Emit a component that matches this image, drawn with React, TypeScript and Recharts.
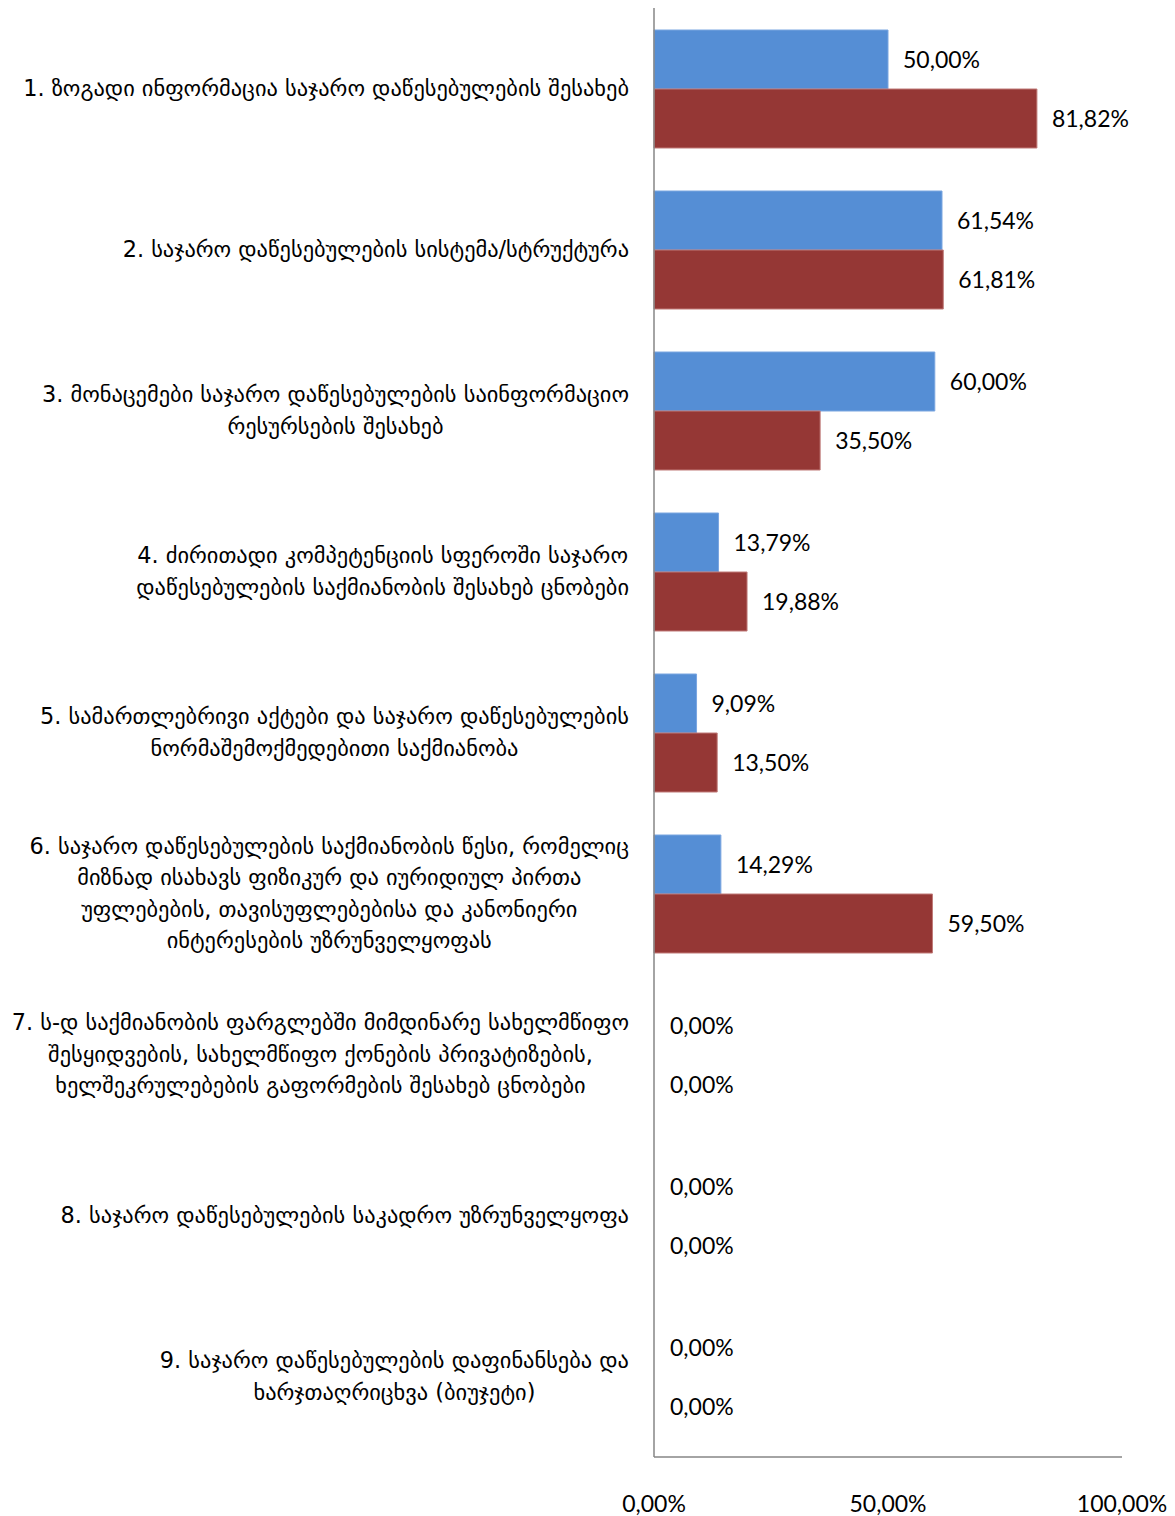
import { BarChart, Bar, XAxis, YAxis, LabelList, Cell } from 'recharts'

const categories = [
  '1. ზოგადი ინფორმაცია საჯარო დაწესებულების შესახებ',
  '2. საჯარო დაწესებულების სისტემა/სტრუქტურა',
  '3. მონაცემები საჯარო დაწესებულების საინფორმაციო\nრესურსების შესახებ',
  '4. ძირითადი კომპეტენციის სფეროში საჯარო\nდაწესებულების საქმიანობის შესახებ ცნობები',
  '5. სამართლებრივი აქტები და საჯარო დაწესებულების\nნორმაშემოქმედებითი საქმიანობა',
  '6.  საჯარო დაწესებულების საქმიანობის წესი, რომელიც\nმიზნად ისახავს ფიზიკურ და იურიდიულ პირთა\nუფლებების, თავისუფლებებისა და კანონიერი\nინტერესების უზრუნველყოფას',
  '7. ს-დ საქმიანობის ფარგლებში მიმდინარე სახელმწიფო\nშესყიდვების, სახელმწიფო ქონების პრივატიზების,\nხელშეკრულებების გაფორმების შესახებ ცნობები',
  '8. საჯარო დაწესებულების საკადრო უზრუნველყოფა',
  '9. საჯარო დაწესებულების დაფინანსება და\nხარჯთაღრიცხვა (ბიუჯეტი)',
]

const seriesA = [50.0, 61.54, 60.0, 13.79, 9.09, 14.29, 0, 0, 0]
const seriesB = [81.82, 61.81, 35.5, 19.88, 13.5, 59.5, 0, 0, 0]

const xTicks = [0, 50, 100]

const data = categories.map((name, i) => ({ name, a: seriesA[i], b: seriesB[i] }))

const fmt = (v: number) => v.toFixed(2).replace('.', ',') + '%'

const numFont = 'Lato, "DejaVu Sans", sans-serif'
const geoFont = '"DejaVu Sans", sans-serif'

const blue = '#558ED5'
const red = '#953735'

function CategoryTick({ y, payload }: any) {
  const lines = String(payload.value).split('\n')
  const h = 160
  return (
    <foreignObject x={0} y={y - h / 2} width={629} height={h}>
      <div
        style={{
          width: '100%',
          height: '100%',
          display: 'flex',
          alignItems: 'center',
          justifyContent: 'flex-end',
        }}
      >
        <div
          style={{
            textAlign: 'center',
            whiteSpace: 'nowrap',
            fontFamily: geoFont,
            fontSize: 22.4,
            lineHeight: '31.5px',
            color: '#000',
          }}
        >
          {lines.map((l, i) => (
            <div key={i}>{l}</div>
          ))}
        </div>
      </div>
    </foreignObject>
  )
}

function ValueTick({ x, y, payload }: any) {
  return (
    <text x={x} y={y + 47} textAnchor="middle" fontFamily={numFont} fontSize={23} fill="#000">
      {fmt(payload.value)}
    </text>
  )
}

const labelStyle = { fontFamily: numFont, fontSize: 23, fill: '#000' }

export default function App() {
  return (
    <div style={{ position: 'absolute', left: 0, top: 0, background: '#fff' }}>
      <BarChart
        width={1175}
        height={1516}
        data={data}
        layout="vertical"
        margin={{ top: 8, right: 53, bottom: 0, left: 0 }}
        barGap={0}
        barCategoryGap={22}
      >
        <XAxis
          type="number"
          domain={[0, 100]}
          ticks={xTicks}
          tickLine={false}
          axisLine={{ stroke: '#868686', strokeWidth: 1.5 }}
          tick={<ValueTick />}
          height={59}
          interval={0}
        />
        <YAxis
          type="category"
          dataKey="name"
          width={654}
          tickLine={false}
          axisLine={{ stroke: '#868686', strokeWidth: 1.5 }}
          tick={<CategoryTick />}
          interval={0}
        />
        <Bar dataKey="a" fill={blue} stroke="#7aa6e0" strokeWidth={1} minPointSize={1} isAnimationActive={false}>
          {seriesA.map((v, i) => (
            <Cell key={i} fill={v > 0 ? blue : 'transparent'} stroke={v > 0 ? '#7aa6e0' : 'none'} />
          ))}
          <LabelList
            dataKey="a"
            position="right"
            offset={15}
            formatter={(v: any) => fmt(Number(v))}
            style={labelStyle}
          />
        </Bar>
        <Bar dataKey="b" fill={red} stroke="#c07b79" strokeWidth={1} minPointSize={1} isAnimationActive={false}>
          {seriesB.map((v, i) => (
            <Cell key={i} fill={v > 0 ? red : 'transparent'} stroke={v > 0 ? '#c07b79' : 'none'} />
          ))}
          <LabelList
            dataKey="b"
            position="right"
            offset={15}
            formatter={(v: any) => fmt(Number(v))}
            style={labelStyle}
          />
        </Bar>
      </BarChart>
    </div>
  )
}
